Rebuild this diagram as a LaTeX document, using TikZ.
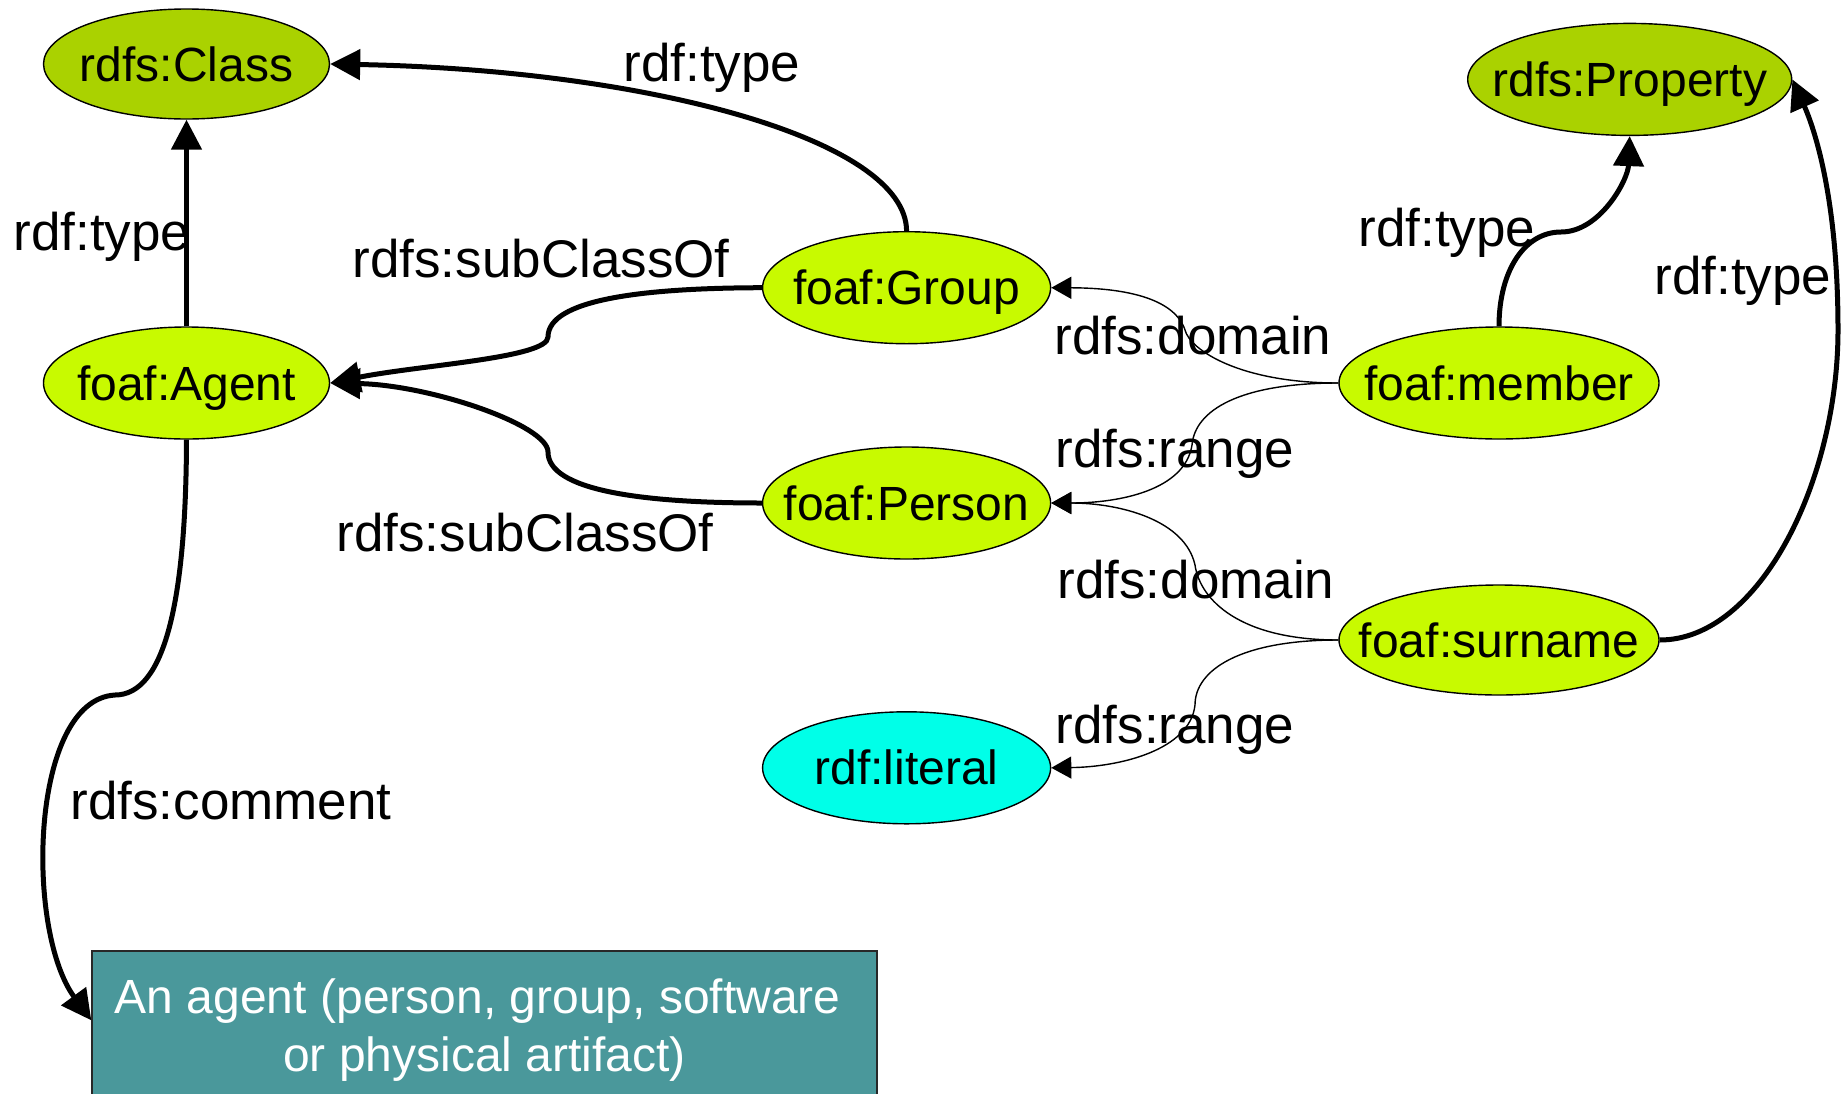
\documentclass[tikz,border=0pt]{standalone}
\usepackage{fontspec}
\setmainfont{Liberation Sans}
\usetikzlibrary{shapes.geometric,arrows.meta,calc}
\definecolor{classgreen}{RGB}{170,210,0}
\definecolor{foafgreen}{RGB}{200,250,0}
\definecolor{literalcyan}{RGB}{0,255,232}
\definecolor{commentteal}{RGB}{74,152,155}
\definecolor{boxborder}{RGB}{40,40,40}
\newcommand\zw[1]{\makebox[0pt]{#1}}
\begin{document}
\begin{tikzpicture}[x=1pt,y=-1pt,
  every node/.style={inner sep=0pt},
  res/.style={ellipse, draw=black, line width=1.4pt, text height=34pt, text depth=0pt,
    font=\fontsize{48}{56}\selectfont},
  classres/.style={res, fill=classgreen},
  foafres/.style={res, fill=foafgreen},
  lbl/.style={font=\fontsize{53}{60}\selectfont, text height=38pt, text depth=0pt},
  strongedge/.style={line width=5pt, -{Triangle[length=30pt,width=30pt]}},
  weakedge/.style={line width=1.4pt, -{Triangle[length=20pt,width=22pt]}},
  commentbox/.style={rectangle, draw=boxborder, line width=1.4pt, fill=commentteal,
    text=white, align=center, font=\fontsize{48}{57.5}\selectfont}
]
\useasboundingbox (0,0) rectangle (1845,1093);

% resources
\node[classres, minimum width=286pt, minimum height=110pt] (class) at (186.5,64) {\zw{rdfs:Class}};
\node[classres, minimum width=324pt, minimum height=112pt] (property) at (1629.7,79.4) {\zw{rdfs:Property}};
\node[foafres, minimum width=288pt, minimum height=112pt] (group) at (906.6,287.7) {\zw{foaf:Group}};
\node[foafres, minimum width=286pt, minimum height=112pt] (agent) at (186.5,383) {\zw{foaf:Agent}};
\node[foafres, minimum width=320pt, minimum height=112pt] (member) at (1499,383) {\zw{foaf:member}};
\node[foafres, minimum width=288pt, minimum height=112pt] (person) at (906.6,503) {\zw{foaf:Person}};
\node[foafres, minimum width=320pt, minimum height=110pt] (surname) at (1499,640) {\zw{foaf:surname}};
\node[res, fill=literalcyan, minimum width=288pt, minimum height=112pt] (literal) at (906.6,767.8) {\zw{rdf:literal}};

% literal comment (runs past the lower edge of the page)
\node[commentbox, minimum width=785pt, minimum height=158pt] (comment) at (484.5,1030)
  {An agent (person, group, software\hspace*{0.28em}\\or physical artifact)};

% rdf:type
\draw[strongedge] (group.north) .. controls (906,140) and (650,70) .. (class.east);
\draw[strongedge] (agent.north) -- (class.south);
\draw[strongedge] (member.north) .. controls (1499,270) and (1525,232) .. (1561,232)
  .. controls (1600,232) and (1628,180) .. (property.south);
\draw[strongedge] (surname.east) .. controls (1760,640) and (1838,480) .. (1838,330)
  .. controls (1838,200) and (1815,130) .. (property.east);

% rdfs:subClassOf
\draw[strongedge] (group.west) .. controls (640,288) and (548,300) .. (548,337)
  .. controls (548,358) and (420,365) .. (agent.east);
\draw[strongedge] (person.west) .. controls (640,503) and (548,490) .. (548,452)
  .. controls (548,425) and (430,385) .. (agent.east);

% rdfs:comment
\draw[strongedge] (agent.south) .. controls (186,600) and (165,695) .. (115,695)
  .. controls (30,700) and (25,930) .. ($(comment.north west)+(0,70)$);

% domains and ranges
\draw[weakedge] (member.west) .. controls (1240,383) and (1190,350) .. (1185,330)
  .. controls (1175,300) and (1130,288) .. (group.east);
\draw[weakedge] (member.west) .. controls (1240,383) and (1195,410) .. (1192,445)
  .. controls (1185,490) and (1120,503) .. (person.east);
\draw[weakedge] (surname.west) .. controls (1240,640) and (1200,600) .. (1195,565)
  .. controls (1185,520) and (1120,503) .. (person.east);
\draw[weakedge] (surname.west) .. controls (1240,640) and (1195,670) .. (1195,705)
  .. controls (1190,750) and (1120,767) .. (literal.east);

% edge labels
\node[lbl] (l-group-type) at (712,62) {rdf:type};
\node[lbl] (l-agent-type) at (102,231) {rdf:type};
\node[lbl] (l-group-sub) at (541,258) {rdfs:subClassOf};
\node[lbl] (l-person-sub) at (525,532) {rdfs:subClassOf};
\node[lbl] (l-member-domain) at (1193,335) {rdfs:domain};
\node[lbl] (l-member-range) at (1175,448) {rdfs:range};
\node[lbl] (l-surname-domain) at (1196,579) {rdfs:domain};
\node[lbl] (l-surname-range) at (1175,724) {rdfs:range};
\node[lbl] (l-member-type) at (1447,227) {rdf:type};
\node[lbl] (l-surname-type) at (1743,275) {rdf:type};
\node[lbl] (l-comment) at (231,800) {rdfs:comment};
\end{tikzpicture}
\end{document}
